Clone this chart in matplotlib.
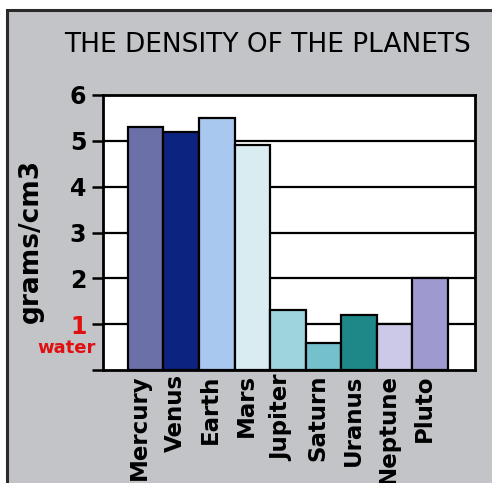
import matplotlib
matplotlib.use("Agg")
import matplotlib.pyplot as plt
import matplotlib.transforms as mtransforms
from matplotlib.patches import Rectangle

planets = ["Mercury", "Venus", "Earth", "Mars", "Jupiter",
           "Saturn", "Uranus", "Neptune", "Pluto"]
density = [5.3, 5.2, 5.5, 4.9, 1.3, 0.6, 1.2, 1.0, 2.0]
colors = ["#6c70a8", "#0c2380", "#a9c8f0", "#d8ecf2", "#9dd4de",
          "#74c0cc", "#1e8888", "#ccc8e8", "#9e9ad0"]
yticks = [0, 1, 2, 3, 4, 5, 6]
ytick_labels = ["", "1", "2", "3", "4", "5", "6"]

W, H = 492, 483
fig = plt.figure(figsize=(W / 100, H / 100), dpi=100, facecolor="white")

# grey panel with a dark frame running off the right and bottom edges
panel = Rectangle((7 / W, -0.1), 1.2, (H - 10) / H + 0.1,
                  transform=fig.transFigure, facecolor="#c2c4c8",
                  edgecolor="#2a2a2a", linewidth=2.2, zorder=-5)
fig.patches.append(panel)

ax = fig.add_axes([103 / W, 1 - 370 / H, (475 - 103) / W, (370 - 95) / H])
ax.set_facecolor("white")

x = list(range(len(planets)))
ax.bar(x, density, width=1.0, color=colors, edgecolor="black",
       linewidth=1.6, zorder=3)

for yv in yticks[1:-1]:
    ax.axhline(yv, color="black", linewidth=1.6, zorder=1)

ax.set_xlim(-1.2, len(planets) - 0.5 + 0.76)
ax.set_ylim(0, 6)

for s in ax.spines.values():
    s.set_linewidth(2.0)
    s.set_color("black")

ax.set_yticks(yticks)
ax.set_yticklabels(ytick_labels, fontsize=17, fontweight="bold")
ax.tick_params(axis="y", length=8, width=1.8, pad=4, color="black")
ax.get_yticklabels()[1].set_color("#e01010")

ax.set_xticks(x)
ax.set_xticklabels(planets, rotation=90, fontsize=16.5, fontweight="bold",
                   va="top", ha="center")
ax.tick_params(axis="x", length=0, pad=3)
shift = mtransforms.ScaledTranslation(-6 / 100, 0, fig.dpi_scale_trans)
for lbl in ax.get_xticklabels():
    lbl.set_transform(lbl.get_transform() + shift)

ax.set_ylabel("grams/cm3", fontsize=19, fontweight="bold")
ax.yaxis.set_label_coords((44 - 103) / (475 - 103), (370 - 241) / (370 - 95))

fig.text(67 / W, 1 - 348 / H, "water", color="#e01010", fontsize=13,
         fontweight="bold", ha="center", va="center")

fig.text(268 / W, 1 - 45 / H, "THE DENSITY OF THE PLANETS",
         fontsize=19, ha="center", va="center", color="black")

fig.savefig("out.png", dpi=100, facecolor=fig.get_facecolor())
